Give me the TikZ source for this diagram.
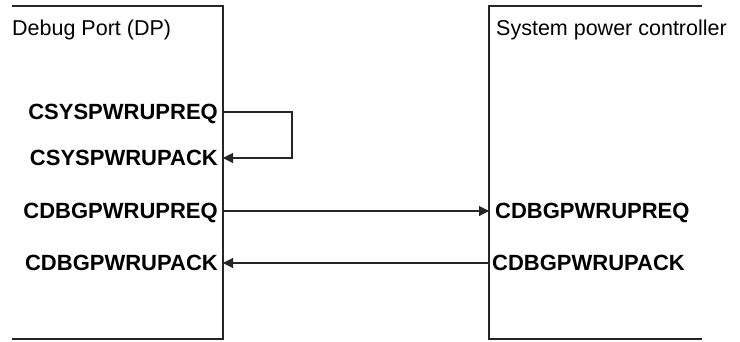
\documentclass[tikz,border=0pt]{standalone}
\usepackage{fontspec}
\setmainfont{Liberation Sans}
\usetikzlibrary{arrows.meta}
\tikzset{
  title/.style={anchor=base west, inner sep=0pt, font=\fontsize{21.5}{25}\selectfont},
  port/.style={inner ysep=0pt, inner xsep=5pt, text height=15pt, text depth=0pt,
    font=\fontsize{22}{26}\selectfont\bfseries},
  sig/.style={line width=1.1pt, black!85},
  tip/.style={-{Triangle[length=10pt,width=10pt]}}
}
\begin{document}
\begin{tikzpicture}[
  x=1pt, y=-1pt
]
\useasboundingbox (0,0) rectangle (740,341);

% the two blocks, open on one side
\draw [sig] (12,6) -- (223,6) -- (223,339) -- (12,339);
\draw [sig] (702,6) -- (489,6) -- (489,339) -- (702,339);

\node [title] (dp) at (12,35) {Debug Port (DP)};
\node [title] (spc) at (496,35) {System power controller};

\node [port, anchor=east] (sysreq) at (223,112) {CSYSPWRUPREQ};
\node [port, anchor=east] (sysack) at (223,158) {CSYSPWRUPACK};
\node [port, anchor=east] (dbgreq) at (223,211) {CDBGPWRUPREQ};
\node [port, anchor=east] (dbgack) at (223,263) {CDBGPWRUPACK};

\node [port, anchor=west, inner xsep=6pt] (spcreq) at (489,211) {CDBGPWRUPREQ};
\node [port, anchor=west, inner xsep=3pt] (spcack) at (489,263) {CDBGPWRUPACK};

% system power request looped back
\draw [sig, tip] (sysreq.east) -- ++(69,0) |- (sysack.east);

\draw [sig, tip] (dbgreq.east) -- (spcreq.west);
\draw [sig, tip] (spcack.west) -- (dbgack.east);
\end{tikzpicture}
\end{document}
